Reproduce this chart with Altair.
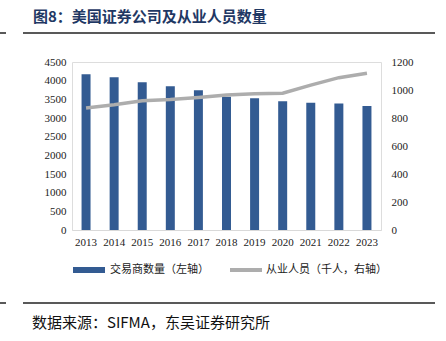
import altair as alt
import pandas as pd

years = ["2013", "2014", "2015", "2016", "2017", "2018", "2019", "2020", "2021", "2022", "2023"]
dealers = [4170, 4090, 3960, 3850, 3740, 3570, 3530, 3450, 3410, 3390, 3320]
staff = [872, 895, 923, 932, 946, 964, 973, 977, 1035, 1088, 1119]

df = pd.DataFrame({"year": years, "dealers": dealers, "staff": staff})

SERIF = "Liberation Serif"
CJK = "Noto Sans CJK SC"
BAR = "#335B92"
LINE = "#ADADAD"

W, H = 309, 168
base = alt.Chart(df)

xenc = alt.X("year:N", sort=years, title=None,
             scale=alt.Scale(paddingInner=0.68, paddingOuter=0.34),
             axis=alt.Axis(labelFont=SERIF, labelFontSize=11, labelColor="#222",
                           labelAngle=0, ticks=False, domainColor="#D9D9D9",
                           labelPadding=6))

bars = base.mark_bar(color=BAR).encode(
    x=xenc,
    y=alt.Y("dealers:Q", title=None,
            scale=alt.Scale(domain=[0, 4500], nice=False),
            axis=alt.Axis(values=list(range(0, 4501, 500)), format="d", labelFont=SERIF,
                          labelFontSize=11, labelColor="#222", domain=False,
                          ticks=False, grid=False, labelPadding=6)),
)

line = base.mark_line(color=LINE, strokeWidth=3.5).encode(
    x=alt.X("year:N", sort=years),
    y=alt.Y("staff:Q", title=None,
            scale=alt.Scale(domain=[0, 1200], nice=False),
            axis=alt.Axis(orient="right", values=list(range(0, 1201, 200)), format="d",
                          labelFont=SERIF, labelFontSize=11, labelColor="#222",
                          domain=False, ticks=False, grid=False, labelPadding=10)),
)

one = pd.DataFrame({"a": [0]})
ob = alt.Chart(one)

title = ob.mark_text(text="图8：美国证券公司及从业人员数量", font=CJK, fontSize=15,
                     fontWeight="bold", color="#1F3864", align="left",
                     baseline="middle").encode(x=alt.value(-39), y=alt.value(-45))
rule_top1 = ob.mark_rule(color="#222", strokeWidth=1.5).encode(
    x=alt.value(-72), x2=alt.value(-66), y=alt.value(-29))
rule_top2 = ob.mark_rule(color="#222", strokeWidth=1.5).encode(
    x=alt.value(-49), x2=alt.value(363), y=alt.value(-29))
rule_bot1 = ob.mark_rule(color="#222", strokeWidth=1.5).encode(
    x=alt.value(-72), x2=alt.value(-66), y=alt.value(241))
rule_bot2 = ob.mark_rule(color="#222", strokeWidth=1.5).encode(
    x=alt.value(-49), x2=alt.value(363), y=alt.value(241))
source = ob.mark_text(text="数据来源：SIFMA，东吴证券研究所", font=CJK, fontSize=15,
                      color="#111", align="left", baseline="middle").encode(
    x=alt.value(-40), y=alt.value(261))

leg_rect = ob.mark_rect(color=BAR).encode(
    x=alt.value(1), x2=alt.value(33), y=alt.value(205), y2=alt.value(211))
leg_t1 = ob.mark_text(text="交易商数量（左轴）", font=CJK, fontSize=11, color="#222",
                      align="left", baseline="middle").encode(x=alt.value(38), y=alt.value(208))
leg_line = ob.mark_rule(color=LINE, strokeWidth=4).encode(
    x=alt.value(158), x2=alt.value(190), y=alt.value(208))
leg_t2 = ob.mark_text(text="从业人员（千人，右轴）", font=CJK, fontSize=11, color="#222",
                      align="left", baseline="middle").encode(x=alt.value(194), y=alt.value(208))

main = alt.layer(bars, line).resolve_scale(y="independent")

chart = alt.layer(main, title, rule_top1, rule_top2, rule_bot1, rule_bot2, source,
                  leg_rect, leg_t1, leg_line, leg_t2).properties(
    width=W, height=H,
    autosize=alt.AutoSizeParams(type="none"),
    padding={"left": 72, "top": 62, "right": 446 - 72 - W, "bottom": 341 - 62 - H},
).configure_view(stroke=None).configure(background="white")

chart.save("out.html", embed_options={"renderer": "svg", "actions": False})
